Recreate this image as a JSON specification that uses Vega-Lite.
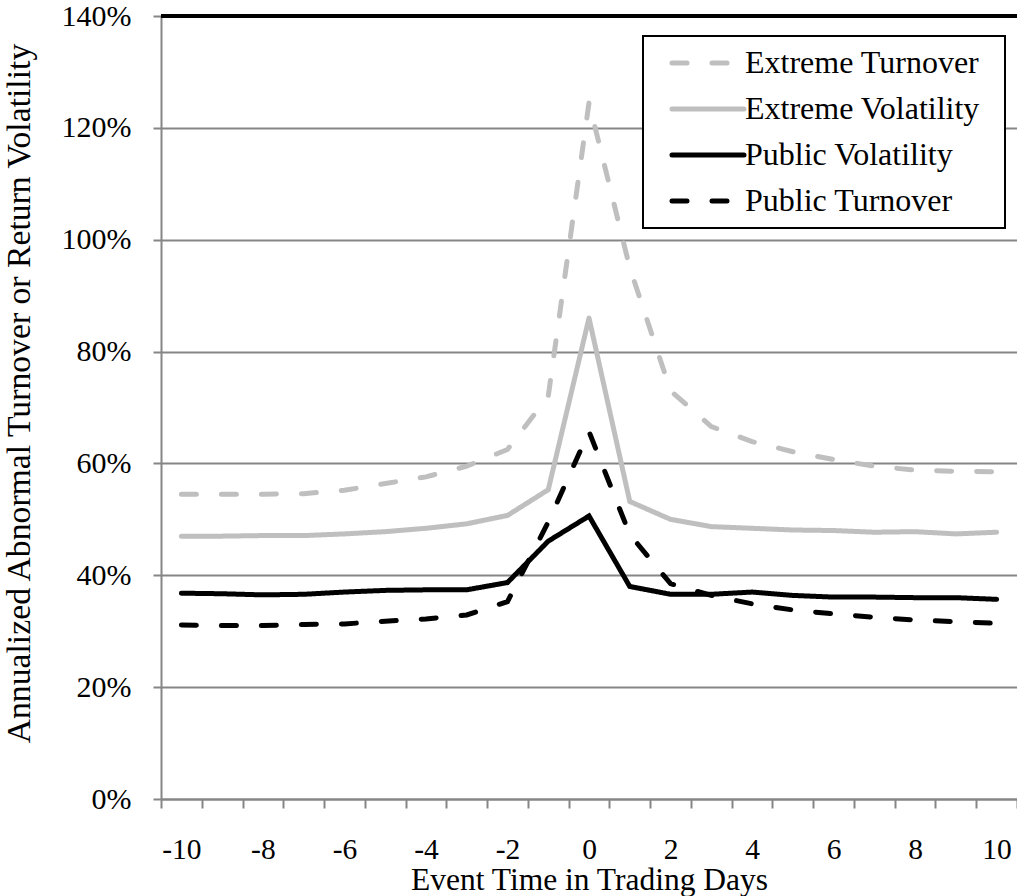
{
  "$schema": "https://vega.github.io/schema/vega-lite/v6.json",
  "width": 856,
  "height": 783,
  "autosize": {"type": "none"},
  "padding": {"left": 161, "top": 16, "right": 0, "bottom": 97},
  "background": "white",
  "config": {"font": "Liberation Serif", "view": {"stroke": null}},
  "data": {"values": [
    {"x": -10, "s": "Extreme Turnover", "v": 0.545}, {"x": -9, "s": "Extreme Turnover", "v": 0.545}, {"x": -8, "s": "Extreme Turnover", "v": 0.545}, {"x": -7, "s": "Extreme Turnover", "v": 0.546}, {"x": -6, "s": "Extreme Turnover", "v": 0.552}, {"x": -5, "s": "Extreme Turnover", "v": 0.564}, {"x": -4, "s": "Extreme Turnover", "v": 0.576}, {"x": -3, "s": "Extreme Turnover", "v": 0.595}, {"x": -2, "s": "Extreme Turnover", "v": 0.625}, {"x": -1, "s": "Extreme Turnover", "v": 0.72}, {"x": 0, "s": "Extreme Turnover", "v": 1.245}, {"x": 1, "s": "Extreme Turnover", "v": 0.95}, {"x": 2, "s": "Extreme Turnover", "v": 0.73}, {"x": 3, "s": "Extreme Turnover", "v": 0.666}, {"x": 4, "s": "Extreme Turnover", "v": 0.639}, {"x": 5, "s": "Extreme Turnover", "v": 0.621}, {"x": 6, "s": "Extreme Turnover", "v": 0.607}, {"x": 7, "s": "Extreme Turnover", "v": 0.595}, {"x": 8, "s": "Extreme Turnover", "v": 0.588}, {"x": 9, "s": "Extreme Turnover", "v": 0.586}, {"x": 10, "s": "Extreme Turnover", "v": 0.585},
    {"x": -10, "s": "Extreme Volatility", "v": 0.47}, {"x": -9, "s": "Extreme Volatility", "v": 0.47}, {"x": -8, "s": "Extreme Volatility", "v": 0.471}, {"x": -7, "s": "Extreme Volatility", "v": 0.471}, {"x": -6, "s": "Extreme Volatility", "v": 0.474}, {"x": -5, "s": "Extreme Volatility", "v": 0.478}, {"x": -4, "s": "Extreme Volatility", "v": 0.484}, {"x": -3, "s": "Extreme Volatility", "v": 0.492}, {"x": -2, "s": "Extreme Volatility", "v": 0.507}, {"x": -1, "s": "Extreme Volatility", "v": 0.553}, {"x": 0, "s": "Extreme Volatility", "v": 0.86}, {"x": 1, "s": "Extreme Volatility", "v": 0.532}, {"x": 2, "s": "Extreme Volatility", "v": 0.5}, {"x": 3, "s": "Extreme Volatility", "v": 0.487}, {"x": 4, "s": "Extreme Volatility", "v": 0.484}, {"x": 5, "s": "Extreme Volatility", "v": 0.481}, {"x": 6, "s": "Extreme Volatility", "v": 0.48}, {"x": 7, "s": "Extreme Volatility", "v": 0.477}, {"x": 8, "s": "Extreme Volatility", "v": 0.478}, {"x": 9, "s": "Extreme Volatility", "v": 0.474}, {"x": 10, "s": "Extreme Volatility", "v": 0.477},
    {"x": -10, "s": "Public Volatility", "v": 0.368}, {"x": -9, "s": "Public Volatility", "v": 0.367}, {"x": -8, "s": "Public Volatility", "v": 0.365}, {"x": -7, "s": "Public Volatility", "v": 0.366}, {"x": -6, "s": "Public Volatility", "v": 0.37}, {"x": -5, "s": "Public Volatility", "v": 0.373}, {"x": -4, "s": "Public Volatility", "v": 0.374}, {"x": -3, "s": "Public Volatility", "v": 0.374}, {"x": -2, "s": "Public Volatility", "v": 0.387}, {"x": -1, "s": "Public Volatility", "v": 0.461}, {"x": 0, "s": "Public Volatility", "v": 0.506}, {"x": 1, "s": "Public Volatility", "v": 0.38}, {"x": 2, "s": "Public Volatility", "v": 0.366}, {"x": 3, "s": "Public Volatility", "v": 0.366}, {"x": 4, "s": "Public Volatility", "v": 0.37}, {"x": 5, "s": "Public Volatility", "v": 0.364}, {"x": 6, "s": "Public Volatility", "v": 0.361}, {"x": 7, "s": "Public Volatility", "v": 0.361}, {"x": 8, "s": "Public Volatility", "v": 0.36}, {"x": 9, "s": "Public Volatility", "v": 0.36}, {"x": 10, "s": "Public Volatility", "v": 0.357},
    {"x": -10, "s": "Public Turnover", "v": 0.311}, {"x": -9, "s": "Public Turnover", "v": 0.31}, {"x": -8, "s": "Public Turnover", "v": 0.31}, {"x": -7, "s": "Public Turnover", "v": 0.312}, {"x": -6, "s": "Public Turnover", "v": 0.313}, {"x": -5, "s": "Public Turnover", "v": 0.318}, {"x": -4, "s": "Public Turnover", "v": 0.322}, {"x": -3, "s": "Public Turnover", "v": 0.329}, {"x": -2, "s": "Public Turnover", "v": 0.353}, {"x": -1, "s": "Public Turnover", "v": 0.495}, {"x": 0, "s": "Public Turnover", "v": 0.657}, {"x": 1, "s": "Public Turnover", "v": 0.473}, {"x": 2, "s": "Public Turnover", "v": 0.385}, {"x": 3, "s": "Public Turnover", "v": 0.364}, {"x": 4, "s": "Public Turnover", "v": 0.349}, {"x": 5, "s": "Public Turnover", "v": 0.338}, {"x": 6, "s": "Public Turnover", "v": 0.331}, {"x": 7, "s": "Public Turnover", "v": 0.325}, {"x": 8, "s": "Public Turnover", "v": 0.32}, {"x": 9, "s": "Public Turnover", "v": 0.317}, {"x": 10, "s": "Public Turnover", "v": 0.314}
  ]},
  "layer": [
    {
      "mark": {"type": "line", "strokeWidth": 5, "strokeCap": "round", "strokeJoin": "miter"},
      "encoding": {
        "x": {
          "field": "x", "type": "quantitative",
          "scale": {"domain": [-10.5, 10.5], "nice": false, "zero": false},
          "axis": {
            "values": [-10.5, -10, -9.5, -8.5, -8, -7.5, -6.5, -6, -5.5, -4.5, -4, -3.5, -2.5, -2, -1.5, -0.5, 0, 0.5, 1.5, 2, 2.5, 3.5, 4, 4.5, 5.5, 6, 6.5, 7.5, 8, 8.5, 9.5, 10, 10.5],
            "title": "Event Time in Trading Days",
            "grid": false,
            "domainColor": "#868686", "domainWidth": 2,
            "tickColor": "#868686", "tickWidth": 2, "tickSize": 9,
            "tickOpacity": {"condition": {"test": "datum.value % 1 === 0", "value": 0}, "value": 1},
            "labelExpr": "datum.value % 2 === 0 ? '' + datum.value : ''",
            "labelFontSize": 29.5, "labelColor": "#000", "labelPadding": 27,
            "labelFlush": false, "labelOverlap": false, "labelBound": false,
            "titleFontSize": 31.5, "titleFontWeight": "normal", "titleColor": "#000", "titlePadding": 1
          }
        },
        "y": {
          "field": "v", "type": "quantitative",
          "scale": {"domain": [0, 1.4], "nice": false},
          "axis": {
            "values": [0, 0.2, 0.4, 0.6, 0.8, 1, 1.2, 1.4],
            "format": ".0%",
            "title": "Annualized Abnormal Turnover or Return Volatility",
            "grid": true, "gridColor": "#868686", "gridWidth": 2,
            "domainColor": "#868686", "domainWidth": 2,
            "tickColor": "#868686", "tickWidth": 2, "tickSize": 8,
            "labelFontSize": 30, "labelColor": "#000", "labelPadding": 22,
            "labelFlush": false, "labelOverlap": false,
            "titleFontSize": 33.7, "titleFontWeight": "normal", "titleColor": "#000", "titlePadding": 25, "titleY": 377
          }
        },
        "color": {
          "field": "s", "type": "nominal",
          "scale": {"domain": ["Extreme Turnover", "Extreme Volatility", "Public Volatility", "Public Turnover"], "range": ["#bfbfbf", "#bfbfbf", "#000000", "#000000"]},
          "legend": {
            "orient": "none", "legendX": 482, "legendY": 20,
            "title": "\u00a0", "titleOrient": "right", "titlePadding": 14, "titleFontSize": 1, "titleOpacity": 0,
            "symbolType": "M-3,0H3", "symbolSize": 576, "symbolStrokeWidth": 5, "symbolOffset": 38,
            "labelFontSize": 32, "labelColor": "#000", "labelOffset": 21, "labelLimit": 500,
            "padding": 11, "rowPadding": 14, "strokeColor": "#000", "fillColor": "#fff",
            "encode": {"legend": {"update": {"strokeWidth": {"value": 2}}}, "symbols": {"update": {"strokeCap": {"value": "round"}}}}
          }
        },
        "strokeDash": {
          "field": "s", "type": "nominal",
          "scale": {"domain": ["Extreme Turnover", "Extreme Volatility", "Public Volatility", "Public Turnover"], "range": [[15, 25], [1, 0], [1, 0], [15, 25]]}
        }
      }
    },
    {
      "mark": {"type": "rule", "color": "#000", "strokeWidth": 2.5},
      "encoding": {"y": {"datum": 1.4, "type": "quantitative"}}
    }
  ]
}
